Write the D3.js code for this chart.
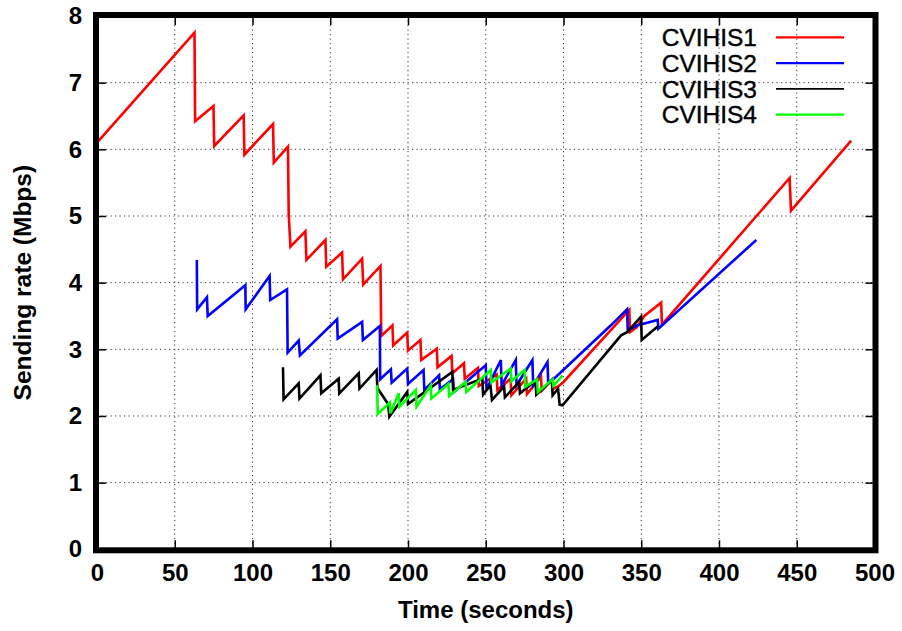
<!DOCTYPE html>
<html>
<head>
<meta charset="utf-8">
<script src="https://cdn.jsdelivr.net/npm/d3@7"></script>
<style>
  html, body { margin: 0; padding: 0; background: #fff; }
  svg { display: block; }
  text { font-family: "Liberation Sans", Arial, sans-serif; }
</style>
</head>
<body>
<svg id="chart" width="902" height="631"></svg>
<script>
// Sending rate of four CVIHIS flows over time: [time (s), rate (Mbps)]
const cvihis1 = [
  [0, 6.10], [62.7, 7.75], [63.1, 6.42], [74.9, 6.65], [75.4, 6.05], [94.3, 6.51], [94.8, 5.92],
  [113.2, 6.38], [113.7, 5.80], [122.8, 6.04], [123.3, 5.02], [124.4, 4.54], [134.0, 4.77], [134.7, 4.34],
  [146.9, 4.64], [147.4, 4.24], [157.6, 4.45], [158.2, 4.05], [170.5, 4.36], [171.2, 3.97], [182.3, 4.25],
  [182.8, 3.20], [190.0, 3.36], [190.5, 3.06], [199.5, 3.25], [200.0, 2.98], [208.0, 3.14], [208.5, 2.84],
  [218.5, 3.01], [219.0, 2.73], [228.0, 2.90], [228.5, 2.64], [236.0, 2.79], [236.5, 2.56], [245.0, 2.72],
  [245.5, 2.45], [257.0, 2.62], [257.5, 2.39], [266.0, 2.56], [266.5, 2.31], [276.0, 2.56], [276.5, 2.33],
  [285.5, 2.59], [286.0, 2.38], [293.0, 2.55], [293.5, 2.41], [297.0, 2.45], [300.0, 2.51], [342.3, 3.59],
  [342.8, 3.26], [347.0, 3.33], [352.0, 3.50], [362.8, 3.70], [363.3, 3.37], [445.4, 5.57], [446.3, 5.08],
  [485.0, 6.13]
];
const cvihis2 = [
  [64.2, 4.34], [64.4, 3.60], [70.7, 3.78], [71.2, 3.50], [95.4, 3.96], [95.6, 3.60], [111.0, 4.10],
  [111.4, 3.74], [122.2, 3.90], [122.6, 2.95], [129.7, 3.13], [130.5, 2.91], [154.4, 3.45], [154.8, 3.16],
  [170.5, 3.41], [171.0, 3.14], [181.9, 3.35], [182.1, 2.55], [189.0, 2.70], [189.5, 2.50], [199.5, 2.71],
  [200.0, 2.48], [210.0, 2.69], [210.5, 2.39], [220.0, 2.61], [220.5, 2.40], [229.0, 2.55], [229.5, 2.36],
  [250.0, 2.76], [250.5, 2.40], [259.7, 2.84], [260.2, 2.46], [269.3, 2.84], [269.8, 2.46], [280.0, 2.84],
  [280.5, 2.46], [289.7, 2.81], [290.2, 2.49], [293.0, 2.54], [330.5, 3.36], [340.9, 3.60], [341.3, 3.29],
  [347.7, 3.36], [360.6, 3.44], [361.0, 3.31], [424.0, 4.64]
];
const cvihis3 = [
  [119.6, 2.73], [120.0, 2.25], [129.7, 2.49], [130.2, 2.26], [143.7, 2.61], [144.2, 2.34], [155.4, 2.56],
  [155.8, 2.34], [168.3, 2.64], [168.8, 2.41], [179.8, 2.69], [180.3, 2.42], [187.2, 2.18], [188.0, 1.99],
  [199.5, 2.36], [200.0, 2.18], [228.5, 2.66], [229.0, 2.39], [247.8, 2.56], [248.3, 2.32], [253.0, 2.46],
  [254.0, 2.24], [261.8, 2.44], [262.3, 2.28], [271.5, 2.51], [272.0, 2.34], [282.0, 2.53], [282.5, 2.32],
  [292.5, 2.54], [293.0, 2.31], [296.5, 2.41], [297.5, 2.17], [299.4, 2.16], [337.0, 3.21], [341.2, 3.26],
  [349.9, 3.49], [350.3, 3.14], [356.3, 3.26], [361.0, 3.35]
];
const cvihis4 = [
  [180.2, 2.46], [180.5, 2.03], [188.3, 2.20], [188.7, 2.04], [194.0, 2.34], [194.5, 2.14], [205.0, 2.39],
  [205.5, 2.14], [214.6, 2.46], [215.0, 2.26], [226.0, 2.48], [226.5, 2.30], [237.0, 2.51], [237.5, 2.36],
  [253.2, 2.69], [253.6, 2.50], [266.0, 2.71], [266.5, 2.52], [275.0, 2.69], [275.5, 2.44], [283.0, 2.55],
  [283.5, 2.36], [293.0, 2.55], [293.5, 2.45], [299.4, 2.61]
];

const seriesNames = ["CVIHIS1", "CVIHIS2", "CVIHIS3", "CVIHIS4"];
const seriesData = [cvihis1, cvihis2, cvihis3, cvihis4];
const seriesColors = ["#ff0000", "#0000ff", "#000000", "#00ff00"];

const xTicks = [0, 50, 100, 150, 200, 250, 300, 350, 400, 450, 500];
const yTicks = [0, 1, 2, 3, 4, 5, 6, 7, 8];
const xTitle = "Time (seconds)";
const yTitle = "Sending rate (Mbps)";

const svg = d3.select("#chart");
const plotLeft = 97, plotRight = 874.5, plotTop = 16, plotBottom = 549.3;

const x = d3.scaleLinear().domain([0, 500]).range([plotLeft, plotRight]);
const y = d3.scaleLinear().domain([0, 8]).range([plotBottom, plotTop]);

// dotted grid
const grid = svg.append("g").attr("stroke", "#333").attr("stroke-width", 1)
  .attr("stroke-dasharray", "1.2,3.3");
grid.selectAll("line.gx").data(xTicks.slice(1, -1)).join("line")
  .attr("x1", d => x(d)).attr("x2", d => x(d)).attr("y1", plotTop).attr("y2", plotBottom);
grid.selectAll("line.gy").data(yTicks.slice(1, -1)).join("line")
  .attr("y1", d => y(d)).attr("y2", d => y(d)).attr("x1", plotLeft).attr("x2", plotRight);

// axes with inward ticks on all four sides
const tickFont = g => g.selectAll("text")
  .attr("font-family", "'Liberation Sans', Arial, sans-serif")
  .attr("font-weight", "bold").attr("font-size", 24).attr("fill", "#000");

svg.append("g").attr("transform", `translate(0,${plotBottom})`)
  .call(d3.axisBottom(x).tickValues(xTicks).tickSizeInner(-9).tickSizeOuter(0).tickPadding(14.5))
  .call(g => g.select(".domain").remove())
  .call(g => g.selectAll("line").attr("stroke-width", 1.5))
  .call(tickFont);
svg.append("g").attr("transform", `translate(0,${plotTop})`)
  .call(d3.axisTop(x).tickValues(xTicks).tickSizeInner(-9).tickSizeOuter(0).tickFormat(""))
  .call(g => g.select(".domain").remove())
  .call(g => g.selectAll("line").attr("stroke-width", 1.5));
svg.append("g").attr("transform", `translate(${plotLeft},0)`)
  .call(d3.axisLeft(y).tickValues(yTicks).tickSizeInner(-9).tickSizeOuter(0).tickPadding(15))
  .call(g => g.select(".domain").remove())
  .call(g => g.selectAll("line").attr("stroke-width", 1.5))
  .call(tickFont);
svg.append("g").attr("transform", `translate(${plotRight},0)`)
  .call(d3.axisRight(y).tickValues(yTicks).tickSizeInner(-9).tickSizeOuter(0).tickFormat(""))
  .call(g => g.select(".domain").remove())
  .call(g => g.selectAll("line").attr("stroke-width", 1.5));

// series
const line = d3.line().x(d => x(d[0])).y(d => y(d[1]));
svg.append("g").selectAll("path").data(seriesData).join("path")
  .attr("d", line)
  .attr("fill", "none")
  .attr("stroke", (d, i) => seriesColors[i])
  .attr("stroke-width", 2.6)
  .attr("stroke-linejoin", "miter");

// frame
svg.append("rect")
  .attr("x", plotLeft - 1).attr("y", plotTop - 1)
  .attr("width", plotRight - plotLeft + 2).attr("height", plotBottom - plotTop + 2)
  .attr("fill", "none").attr("stroke", "#000").attr("stroke-width", 6);

// legend
const legend = svg.append("g");
seriesNames.forEach((name, i) => {
  const ly = 37.3 + i * 25.8;
  legend.append("text")
    .attr("x", 757).attr("y", ly + 8.6)
    .attr("text-anchor", "end")
    .attr("font-size", 24.5).attr("fill", "#000")
    .attr("stroke", "#000").attr("stroke-width", 0.4)
    .text(name);
  legend.append("line")
    .attr("x1", 776).attr("x2", 844).attr("y1", ly).attr("y2", ly)
    .attr("stroke", seriesColors[i]).attr("stroke-width", i === 2 ? 1.7 : 2.2);
});

// axis titles
svg.append("text")
  .attr("x", (plotLeft + plotRight) / 2).attr("y", 618)
  .attr("text-anchor", "middle")
  .attr("font-weight", "bold").attr("font-size", 24)
  .text(xTitle);
svg.append("text")
  .attr("transform", `translate(31,${(plotTop + plotBottom) / 2}) rotate(-90)`)
  .attr("text-anchor", "middle")
  .attr("font-weight", "bold").attr("font-size", 24.5)
  .text(yTitle);
</script>
</body>
</html>
